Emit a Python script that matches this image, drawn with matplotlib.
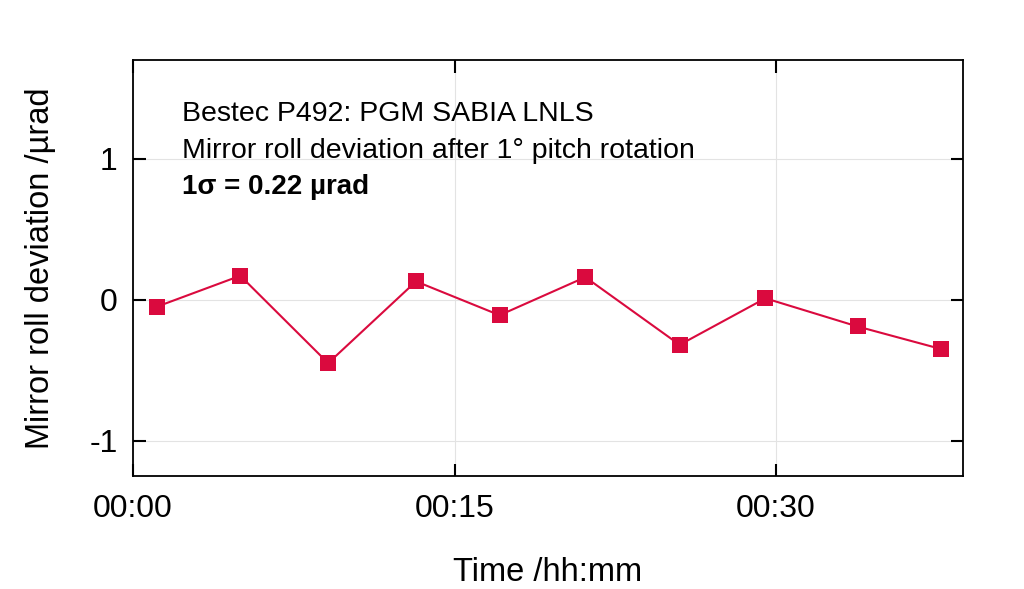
#!/usr/bin/env python3
"""Mirror roll deviation after pitch rotation (Bestec P492)."""

import matplotlib
matplotlib.use("Agg")
import matplotlib.pyplot as plt
from matplotlib.ticker import FixedLocator, FuncFormatter

# elapsed time in minutes, roll deviation in µrad
time_min = [1.1, 5.0, 9.1, 13.2, 17.1, 21.1, 25.5, 29.5, 33.8, 37.7]
roll_urad = [-0.05, 0.17, -0.45, 0.13, -0.11, 0.16, -0.32, 0.01, -0.19, -0.35]

x_ticks = [0, 15, 30]
y_ticks = [-1, 0, 1]
annotation_lines = [
    "Bestec P492: PGM SABIA LNLS",
    "Mirror roll deviation after 1° pitch rotation",
]
sigma_text = "1σ = 0.22 µrad"

LINE_COLOR = "#DA0A3E"

plt.rcParams["font.family"] = ["Liberation Sans", "DejaVu Sans"]

fig = plt.figure(figsize=(10.24, 5.89), dpi=100)
ax = fig.add_axes([0.130, 0.192, 0.810, 0.706])

ax.plot(time_min, roll_urad, color=LINE_COLOR, lw=1.5, marker="s",
        markersize=11.5, markeredgewidth=0, zorder=3)

ax.set_xlim(0, 38.7)
ax.set_ylim(-1.25, 1.70)
ax.xaxis.set_major_locator(FixedLocator(x_ticks))
ax.yaxis.set_major_locator(FixedLocator(y_ticks))
ax.xaxis.set_major_formatter(FuncFormatter(lambda v, _: f"{int(v) // 60:02d}:{int(v) % 60:02d}"))
ax.yaxis.set_major_formatter(FuncFormatter(lambda v, _: f"{int(v)}"))

ax.grid(True, color="#E3E3E3", lw=0.8, zorder=0)
ax.tick_params(direction="in", length=9, width=1.5, top=True, right=True,
               labelsize=23, color="black")
ax.tick_params(axis="x", pad=13)
ax.tick_params(axis="y", pad=11)
for spine in ax.spines.values():
    spine.set_linewidth(1.3)

ax.set_xlabel("Time /hh:mm", fontsize=23.5, labelpad=24)
ax.set_ylabel("Mirror roll deviation /µrad", fontsize=23.5, labelpad=24)

# annotation block, one line at a time (baselines)
baselines = [0.853, 0.764]
for line, y in zip(annotation_lines, baselines):
    ax.text(0.059, y, line, transform=ax.transAxes, fontsize=20.5,
            va="baseline", ha="left")
ax.text(0.059, 0.678, sigma_text, transform=ax.transAxes,
        fontsize=20, va="baseline", ha="left", fontweight="bold")

fig.savefig("out.png", dpi=100)
